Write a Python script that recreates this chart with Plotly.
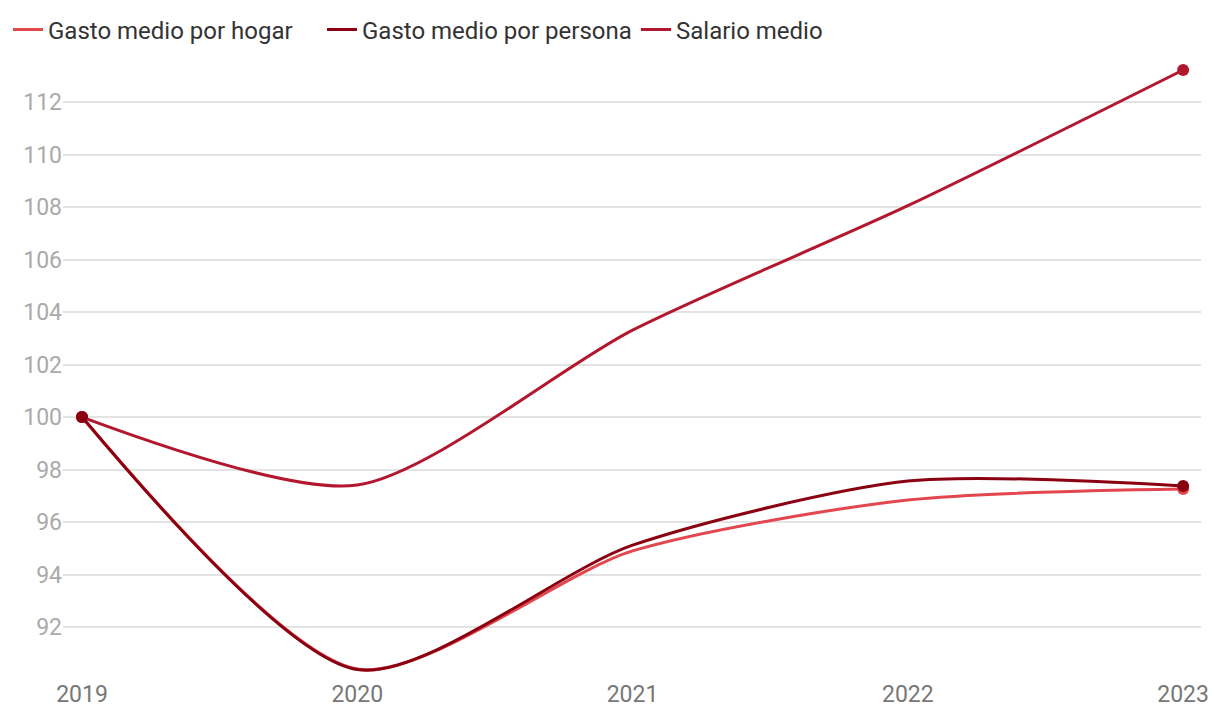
import plotly.graph_objects as go

years = [2019, 2020, 2021, 2022, 2023]
gasto_hogar = [100, 90.4, 94.9, 96.84, 97.26]
gasto_persona = [100, 90.38, 95.12, 97.56, 97.37]
salario = [100, 97.41, 103.31, 108.05, 113.22]

names = ["Gasto medio por hogar", "Gasto medio por persona", "Salario medio"]
colors = ["#e2474e", "#8a0010", "#b3172e"]
series = [gasto_hogar, gasto_persona, salario]

fig = go.Figure()
for name, col, vals in zip(names, colors, series):
    fig.add_trace(go.Scatter(
        x=years, y=vals, name=name, mode="lines",
        line=dict(color=col, width=3, shape="spline", smoothing=0.75),
        hoverinfo="skip",
    ))
# end markers (drawn on top, persona last)
for idx in [2, 0, 1]:
    vals = series[idx]
    fig.add_trace(go.Scatter(
        x=[years[0], years[-1]], y=[vals[0], vals[-1]], mode="markers",
        marker=dict(color=colors[idx], size=12),
        showlegend=False, hoverinfo="skip",
    ))

W, H = 1212, 712
ML, MR, MT, MB = 55, 19, 52, 42
PW, PH = W - ML - MR, H - MT - MB

fig.update_layout(
    width=W, height=H,
    paper_bgcolor="white", plot_bgcolor="white",
    margin=dict(l=ML, r=MR, t=MT, b=MB, autoexpand=False),
    font=dict(family="Roboto", size=24, color="#333333"),
    showlegend=True,
    legend=dict(orientation="h", x=-ML / PW, xanchor="left",
                y=1 + 30 / PH, yanchor="middle",
                font=dict(size=24, color="#333333"), itemwidth=30,
                entrywidth=269, entrywidthmode="pixels",
                traceorder="normal", bgcolor="rgba(0,0,0,0)"),
    xaxis=dict(
        range=[2018.931, 2023.065],
        tickvals=years, ticktext=[str(y) for y in years],
        showgrid=False, zeroline=False, showline=False,
        tickfont=dict(size=23, color="#777777"),
        ticks="", ticklen=0, automargin=False,
    ),
    yaxis=dict(
        range=[90.06, 113.6],
        tickvals=list(range(92, 113, 2)),
        showgrid=True, gridcolor="#e3e3e3", gridwidth=1.5,
        zeroline=False, showline=False,
        tickfont=dict(size=23, color="#aaaaaa"),
        ticks="", ticklen=0, automargin=False,
    ),
)
fig.write_html("out.html")
